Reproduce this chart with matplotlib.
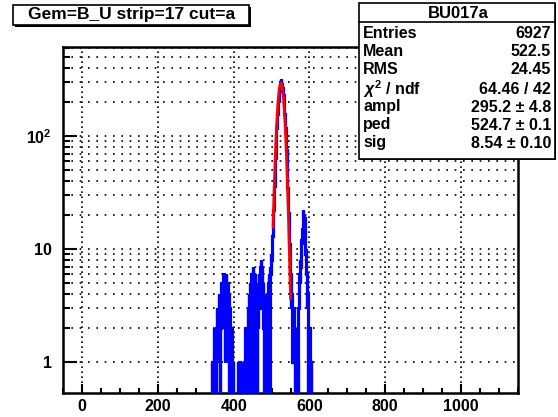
import numpy as np
import matplotlib
matplotlib.use("Agg")
import matplotlib.pyplot as plt
from matplotlib.patches import Rectangle
from matplotlib.ticker import FixedLocator, FixedFormatter, MultipleLocator, NullFormatter

plt.rcParams['font.family'] = ['Liberation Sans', 'DejaVu Sans']
plt.rcParams['font.weight'] = 'bold'
plt.rcParams['mathtext.fontset'] = 'custom'
plt.rcParams['mathtext.rm'] = 'Liberation Sans:bold'
plt.rcParams['mathtext.bf'] = 'Liberation Sans:bold'
plt.rcParams['mathtext.it'] = 'Liberation Sans:italic:bold'

# histogram: unit bins, first bin starts at 342
first_bin = 342
left_counts = [1, 0, 1, 1, 0, 1, 2, 0, 1, 2, 1, 0, 2, 1, 3, 2, 1, 3, 2, 4,
               3, 1, 0, 2, 4, 3, 5, 2, 4, 3, 5, 6, 2, 4, 3, 1, 5, 6, 3, 4,
               2, 5, 1, 3, 4, 2, 0, 3, 1, 2, 0, 1, 2, 0, 1, 0, 1, 0]
gap_counts = [0, 0, 0, 0, 0, 0, 0, 0, 0, 0, 0, 1, 0, 0, 0, 1, 0, 0, 0, 0,
              0, 0, 0, 0, 0]
mid_counts = [1, 0, 0, 1, 0, 1, 2, 0, 1, 2, 0, 1, 3, 2, 0, 4, 3, 1, 5, 2,
              0, 4, 6, 3, 5, 7, 4, 2, 0, 5, 3, 6, 4, 2, 5, 3, 0, 4, 2, 5,
              3, 4, 6, 5, 3, 7, 5, 8, 4, 6, 7, 3, 5, 2, 0, 4, 2, 3, 0, 2,
              1, 3, 2, 0, 4, 3, 5, 2, 6, 0, 4, 7, 6, 9, 8, 11, 10, 13, 15, 18]
peak_counts = [22, 25, 36, 41, 57, 64, 85, 94, 118, 131, 158, 171, 201, 212,
               241, 249, 274, 276, 298, 287, 318, 289, 291, 268, 264, 238,
               229, 199, 188, 158, 147, 119, 108, 84, 76, 56, 50, 35, 31, 21,
               19, 12, 11, 6, 6, 3]
right_counts = [3, 4, 2, 3, 1, 2, 3, 1, 2, 1, 0, 2, 1, 0, 1, 2, 0, 1, 0, 2,
                3, 4, 6, 5, 8, 7, 10, 9, 12, 11, 15, 18, 22, 20, 17, 19, 14,
                12, 9, 10, 7, 6, 3, 4, 1, 0, 2, 1, 0, 2, 0, 1, 1, 0, 1]

# gaussian fit shown in the stats box
fit_ampl, fit_ped, fit_sig = 295.2, 524.7, 8.54
fit_range = (504, 550)

stat_labels = ["Entries", "Mean", "RMS", r"$\chi^{2}$ / ndf", "ampl", "ped", "sig"]
stat_values = ["6927", "522.5", "24.45", "64.46 / 42", u"295.2 \u00b1 4.8",
               u"524.7 \u00b1 0.1", u"8.54 \u00b1 0.10"]
hist_name = "BU017a"
title = "Gem=B_U strip=17 cut=a"

counts = np.array(left_counts + gap_counts + mid_counts + peak_counts + right_counts, dtype=float)
edges = first_bin + np.arange(len(counts) + 1)

W, H = 558, 417
fig = plt.figure(figsize=(W / 100, H / 100), dpi=100)
ax = fig.add_axes([63 / W, 1 - 393 / H, (518 - 63) / W, (393 - 47) / H])

ax.set_yscale('log')
ax.set_xlim(-50, 1150)
ax.set_ylim(0.532, 614)

# grid: dotted, vertical at major x, horizontal at every log tick
for xv in range(0, 1001, 200):
    ax.axvline(xv, color='black', lw=1.2, ls=(0, (1, 2)), zorder=1)
for dec in [1, 10, 100]:
    for m in range(1, 10):
        yv = dec * m
        if yv < 614:
            ax.axhline(yv, color='black', lw=1.2, ls=(0, (1, 4)), zorder=1)

shown = np.where(counts > 0, counts, 1e-3)
ax.stairs(shown, edges, baseline=None, color='#0000ff', lw=2.3, zorder=3)

xf = np.linspace(fit_range[0], fit_range[1], 200)
yf = fit_ampl * np.exp(-0.5 * ((xf - fit_ped) / fit_sig) ** 2)
ax.plot(xf, yf, color='#ff0000', lw=2, zorder=4)

for s in ['left', 'bottom', 'right', 'top']:
    ax.spines[s].set_linewidth(1.8)

ax.xaxis.set_major_locator(FixedLocator([0, 200, 400, 600, 800, 1000]))
ax.xaxis.set_minor_locator(MultipleLocator(50))
ax.yaxis.set_major_locator(FixedLocator([1, 10, 100]))
ax.yaxis.set_major_formatter(FixedFormatter(["1", "10", r"$\mathbf{10^{2}}$"]))
ax.yaxis.set_minor_locator(FixedLocator([m * d for d in [1, 10, 100] for m in range(2, 10)]))
ax.yaxis.set_minor_formatter(NullFormatter())
ax.tick_params(axis='x', which='major', direction='in', length=6.5, width=1.5,
               labelsize=11.5, pad=4, top=False)
ax.tick_params(axis='x', which='minor', direction='in', length=3.3, width=1.5, top=False)
ax.tick_params(axis='y', which='major', direction='in', length=10, width=1.5,
               labelsize=11.5, pad=8, right=False)
ax.tick_params(axis='y', which='minor', direction='in', length=5, width=1.5, right=False)
for lab in ax.get_xticklabels() + ax.get_yticklabels():
    lab.set_fontweight('bold')


def fig_box(x0, y0, x1, y1, shadow=2):
    # ROOT style box with a dark shadow at bottom/right, pixel coords from top-left
    fig.patches.append(Rectangle(((x0 + shadow) / W, 1 - (y1 + shadow) / H),
                                 (x1 - x0) / W, (y1 - y0) / H,
                                 transform=fig.transFigure, facecolor='black',
                                 edgecolor='black', lw=0, zorder=10))
    fig.patches.append(Rectangle((x0 / W, 1 - y1 / H), (x1 - x0) / W, (y1 - y0) / H,
                                 transform=fig.transFigure, facecolor='white',
                                 edgecolor='black', lw=1.2, zorder=11))


# title box
fig_box(13, 5, 249, 25)
fig.text(132 / W, 1 - 15 / H, title, ha='center', va='center', fontsize=12.5,
         fontweight='bold', zorder=12)

# stats box
fig_box(359, 3, 555, 159, shadow=1)
fig.add_artist(plt.Line2D([359 / W, 555 / W], [1 - 22 / H, 1 - 22 / H],
                          transform=fig.transFigure, color='black', lw=1.2, zorder=12))
fig.text(458 / W, 1 - 13 / H, hist_name, ha='center', va='center', fontsize=12,
         fontweight='bold', zorder=12)
row_y = [34, 52, 70, 89, 107, 125, 143]
for yy, lab, val in zip(row_y, stat_labels, stat_values):
    fig.text(363 / W, 1 - yy / H, lab, ha='left', va='center', fontsize=11.5,
             fontweight='bold', zorder=12)
    fig.text(551 / W, 1 - yy / H, val, ha='right', va='center', fontsize=11.5,
             fontweight='bold', zorder=12)

fig.savefig("out.png", dpi=100)
